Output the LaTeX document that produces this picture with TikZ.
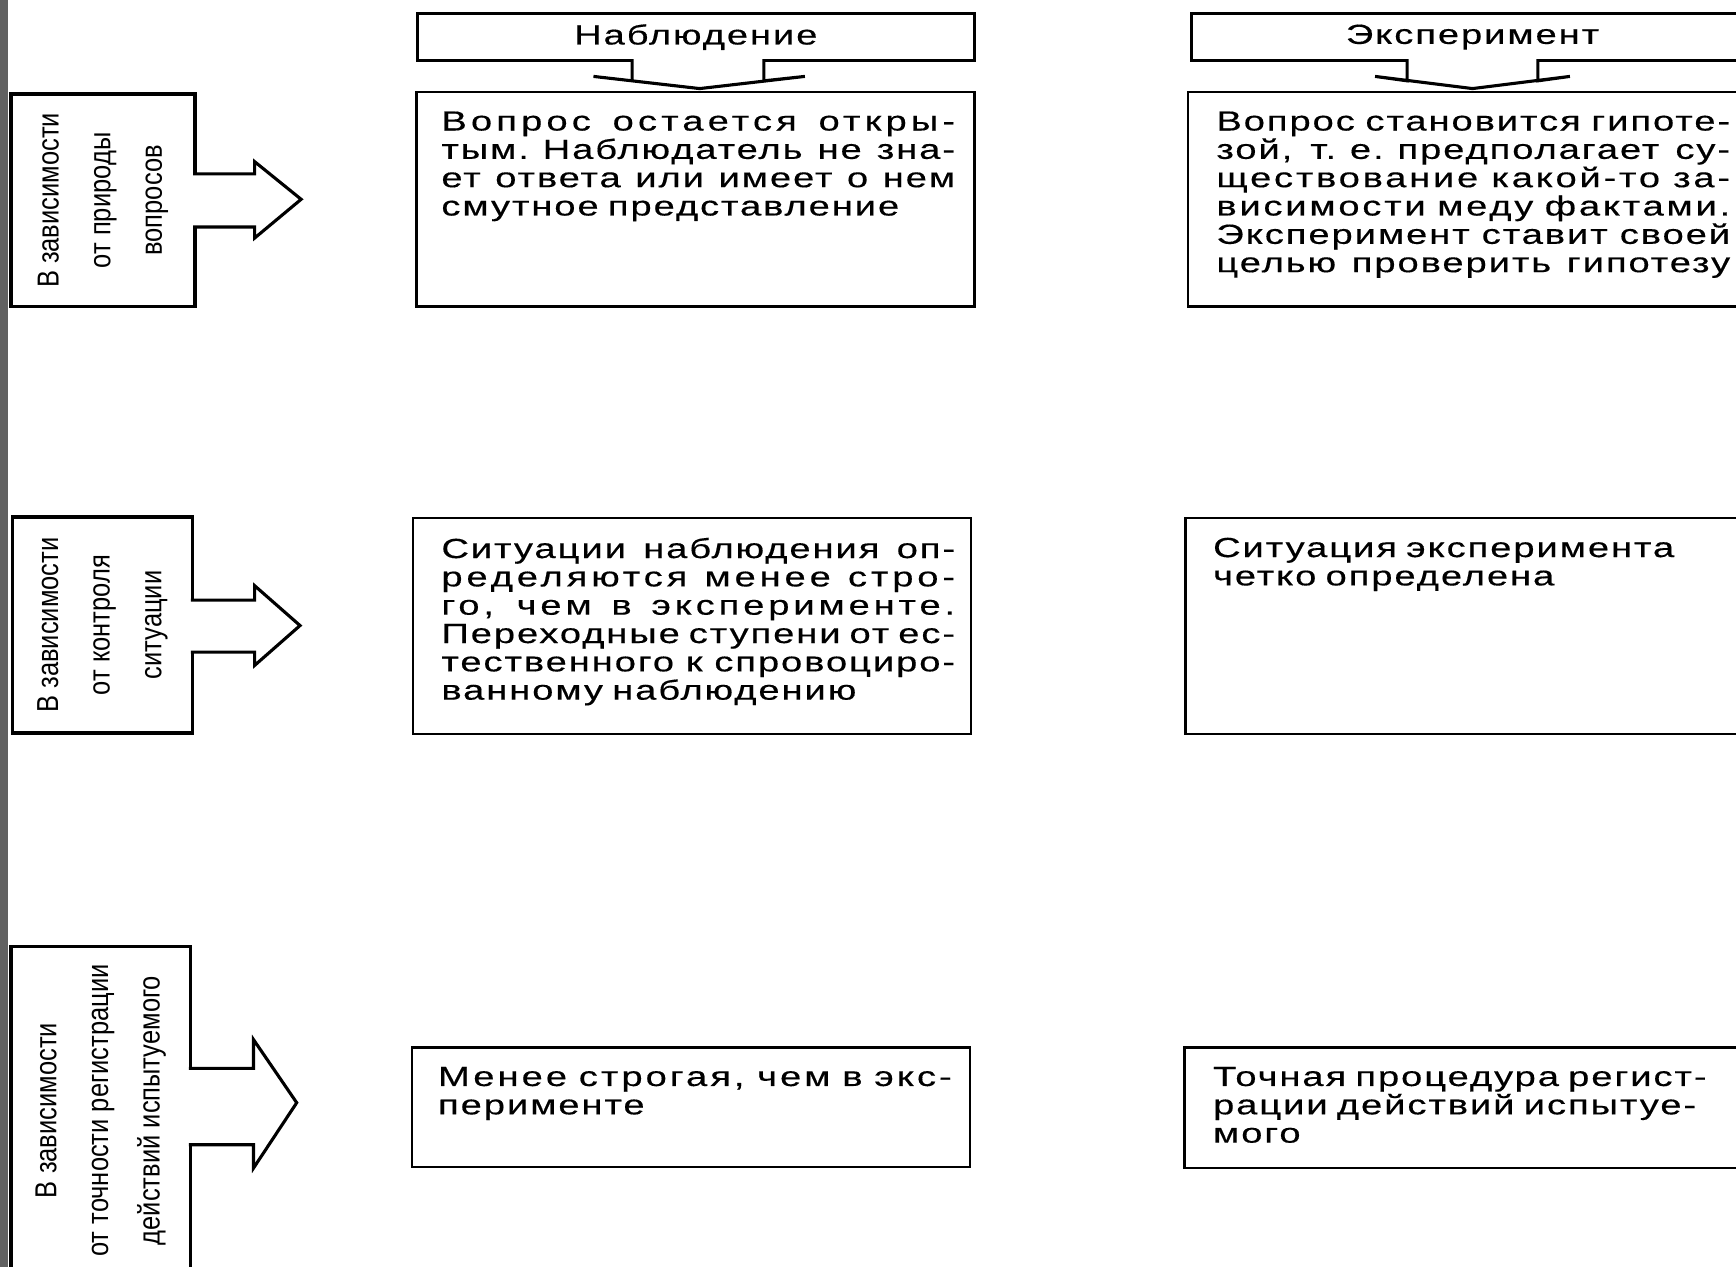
\documentclass[tikz,border=0pt]{standalone}
\usepackage{fontspec}
\setmainfont{Liberation Sans}
\newfontfamily\boxfont[FakeStretch=1.38,LetterSpace=7,WordSpace=1.8,FakeBold=0.4]{Liberation Sans}
\newfontfamily\catfont[FakeStretch=0.84]{Liberation Sans}
\newcommand{\fullline}[2][7]{\makebox[46.4mm][s]{\addfontfeature{LetterSpace=#1}\spaceskip=0.3em plus 1fil minus 0.15em #2}}

\begin{document}
\begin{tikzpicture}[x=0.1mm,y=-0.1mm,
    catbox/.style={draw,line width=0.85pt,anchor=north west,inner sep=0,outer sep=0},
    headbox/.style={draw,line width=0.8pt,anchor=north west,inner sep=0,outer sep=0,
      font={\boxfont\fontsize{7.1pt}{7.28pt}\selectfont}},
    textbox/.style={draw,line width=0.65pt,anchor=north west,inner sep=0,outer sep=0},
    boxtext/.style={anchor=north west,inner sep=0,align=left,text width=47mm,
      font={\boxfont\fontsize{7.1pt}{7.28pt}\selectfont}},
    cattext/.style={rotate=90,align=center,inner sep=0,
      font={\catfont\fontsize{7.8pt}{13.25pt}\selectfont}},
    blockarrow/.style={draw,fill=white,line width=0.8pt}]
  \useasboundingbox (0,0) rectangle (1568,1144);
  \fill[white] (0,0) rectangle (1568,1144);
  \clip (0,0) rectangle (1568,1144);
  \fill[black!62] (0,0) rectangle (7,1144);

  % headers
  \node[headbox,minimum width=50.3mm,minimum height=4.3mm] (headObs) at (377,12) {Наблюдение};
  \node[headbox,minimum width=50.8mm,minimum height=4.3mm] (headExp) at (1076,12) {Эксперимент};

  % left column
  \node[catbox,minimum width=16.6mm,minimum height=19.2mm] (cat1) at (10,85) {};
  \node[catbox,minimum width=16.3mm,minimum height=19.5mm] (cat2) at (11,467) {};
  \node[catbox,minimum width=16.2mm,minimum height=30mm] (cat3) at (10,855) {};

  % boxes
  \node[textbox,minimum width=50.4mm,minimum height=19.4mm] (obsA) at (376,83) {};
  \node[textbox,minimum width=54mm,minimum height=19.4mm] (expA) at (1073,83) {};
  \node[textbox,minimum width=50.4mm,minimum height=19.5mm] (obsB) at (373,468) {};
  \node[textbox,minimum width=54mm,minimum height=19.5mm] (expB) at (1071,468) {};
  \node[textbox,minimum width=50.4mm,minimum height=10.8mm] (obsC) at (372,946) {};
  \node[textbox,minimum width=54mm,minimum height=10.9mm] (expC) at (1070,946) {};

  % arrows
  \draw[blockarrow] (headObs.south) ++(-57.5,-1.5) -- ++(0,19.5) -- ++(-35,-4) -- ++(96,11)
    -- ++(95,-11) -- ++(-37,4) -- ++(0,-19.5);
  \draw[blockarrow] (headExp.south) ++(-59,-1.5) -- ++(0,19.5) -- ++(-29,-4) -- ++(88,11)
    -- ++(88,-11) -- ++(-29,4) -- ++(0,-19.5);
  \draw[blockarrow] (cat1.north east) ++(-1.5,72) -- ++(55.5,0) -- ++(0,-11) -- ++(42,34)
    -- ++(-42,35) -- ++(0,-10) -- ++(-55.5,0);
  \draw[blockarrow] (cat2.north east) ++(-1.5,75) -- ++(57.5,0) -- ++(0,-13) -- ++(41,36)
    -- ++(-41,36) -- ++(0,-12) -- ++(-57.5,0);
  \draw[blockarrow] (cat3.north east) ++(-1.5,110) -- ++(58.5,0) -- ++(0,-26) -- ++(39,57)
    -- ++(-39,59) -- ++(0,-21) -- ++(-58.5,0);

  % texts
  \node[cattext] (cat1text) at (cat1.center) {В зависимости\\от природы\\вопросов};
  \node[cattext] (cat2text) at (cat2.center) {В зависимости\\от контроля\\ситуации};
  \node[cattext] (cat3text) at ([yshift=0.2mm]cat3.center) {В зависимости\\от точности регистрации\\действий испытуемого};

  \node[boxtext] (obsAtext) at ([shift={(22,17)}]obsA.north west) {%
    \fullline[15]{Вопрос остается откры-}\\
    \fullline{тым. Наблюдатель не зна-}\\
    \fullline{ет ответа или имеет о нем}\\
    смутное представление};
  \node[boxtext] (expAtext) at ([shift={(25,17)}]expA.north west) {%
    \fullline{Вопрос становится гипоте-}\\
    \fullline{зой, т. е. предполагает су-}\\
    \fullline[10]{ществование какой-то за-}\\
    \fullline[10]{висимости меду фактами.}\\
    \fullline{Эксперимент ставит своей}\\
    \fullline{целью проверить гипотезу}};
  \node[boxtext] (obsBtext) at ([shift={(25,17)}]obsB.north west) {%
    \fullline{Ситуации наблюдения оп-}\\
    \fullline[14]{ределяются менее стро-}\\
    \fullline[14]{го, чем в эксперименте.}\\
    \fullline{Переходные ступени от ес-}\\
    \fullline{тественного к спровоциро-}\\
    ванному наблюдению};
  \node[boxtext] (expBtext) at ([shift={(24,17)}]expB.north west) {%
    Ситуация эксперимента\\
    четко определена};
  \node[boxtext] (obsCtext) at ([shift={(23,17)}]obsC.north west) {%
    \fullline[11]{Менее строгая, чем в экс-}\\
    перименте};
  \node[boxtext] (expCtext) at ([shift={(25,17)}]expC.north west) {%
    Точная процедура регист-\\
    рации действий испытуе-\\
    мого};
\end{tikzpicture}
\end{document}
